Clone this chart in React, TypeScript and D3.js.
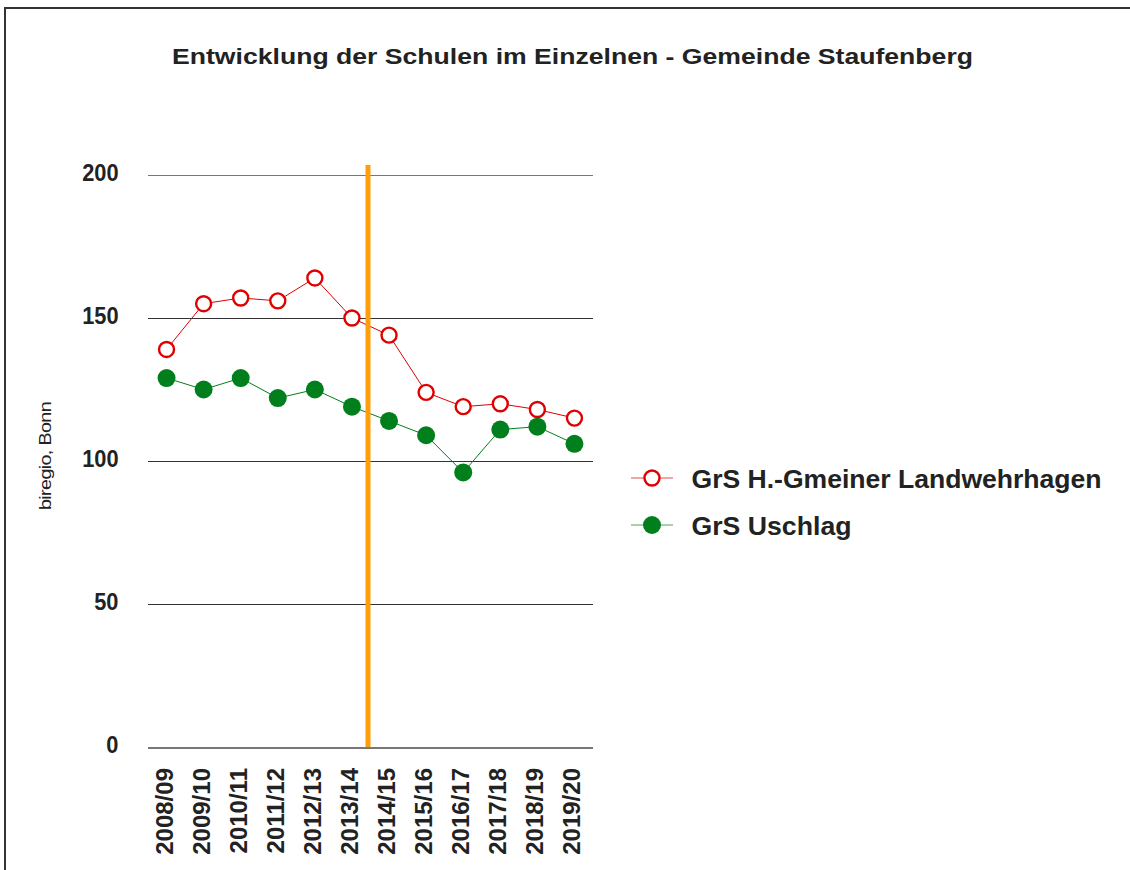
import React from "react";
import * as d3 from "d3";

const categories = ["2008/09","2009/10","2010/11","2011/12","2012/13","2013/14","2014/15","2015/16","2016/17","2017/18","2018/19","2019/20"];
const landwehrhagen = [139,155,157,156,164,150,144,124,119,120,118,115];
const uschlag = [129,125,129,122,125,119,114,109,96,111,112,106];
const yTicks = [0,50,100,150,200];
const seriesNames = ["GrS H.-Gmeiner Landwehrhagen","GrS Uschlag"];
const markerBoundary = 6; // boundary between 2013/14 and 2014/15

const W = 1130, H = 870;
const FONT = "'Liberation Sans', Arial, Helvetica, sans-serif";

export default function App() {
  const x = d3.scaleBand().domain(categories).range([148, 593]);
  const y = d3.scaleLinear().domain([0, 200]).range([747, 175]);
  const cx = (c: string) => (x(c) as number) + x.bandwidth() / 2;
  const line = d3.line<number>().x((_, i) => cx(categories[i])).y((v) => y(v));
  const orangeX = 148 + x.bandwidth() * markerBoundary - 5;
  const red = "#e00000";
  const green = "#007f1c";
  const legendWidths = [410, 160];

  return (
    <svg width={W} height={H} style={{ position: "absolute", left: 0, top: 0 }} fontFamily={FONT}>
      <rect x={0} y={0} width={W} height={H} fill="#fff" />
      <rect x={5} y={8} width={W + 20} height={H + 20} fill="none" stroke="#333" strokeWidth={2} />
      <text x={572.5} y={64} textAnchor="middle" fontSize={22.5} fontWeight="bold" fill="#222"
        textLength={801} lengthAdjust="spacingAndGlyphs">
        Entwicklung der Schulen im Einzelnen - Gemeinde Staufenberg
      </text>
      {yTicks.map((t) => (
        <g key={t}>
          <line x1={148} x2={593} y1={Math.round(y(t)) + 0.5} y2={Math.round(y(t)) + 0.5}
            stroke={t === 0 || t === 200 ? "#777" : "#333"} strokeWidth={t === 0 ? 2 : 1} shapeRendering="crispEdges" />
          <text transform={`translate(118.5,${y(t) + 5.5}) scale(0.89,1)`} textAnchor="end" fontSize={24.5} fontWeight="bold" fill="#222">
            {t}
          </text>
        </g>
      ))}
      <text transform={`translate(51,456) rotate(-90)`} textAnchor="middle" fontSize={16} fill="#222"
        textLength={108} lengthAdjust="spacingAndGlyphs" letterSpacing={-0.5}>
        biregio, Bonn
      </text>
      {categories.map((c) => (
        <text key={c} transform={`translate(${cx(c) + 6},768) rotate(-90)`} textAnchor="end" fontSize={24} fontWeight="bold" fill="#222">
          {c}
        </text>
      ))}
      <path d={line(landwehrhagen) || ""} fill="none" stroke={red} strokeWidth={1} />
      <path d={line(uschlag) || ""} fill="none" stroke={green} strokeWidth={1} />
      <rect x={orangeX} y={165} width={5} height={747 - 165} fill="#ff9e0a" />
      {uschlag.map((v, i) => (
        <circle key={"g" + i} cx={cx(categories[i])} cy={y(v)} r={9} fill={green} />
      ))}
      {landwehrhagen.map((v, i) => (
        <circle key={"r" + i} cx={cx(categories[i])} cy={y(v)} r={7.5} fill="#fff" stroke={red} strokeWidth={2.4} />
      ))}
      {seriesNames.map((n, i) => {
        const ly = 478 + i * 47;
        const col = i === 0 ? red : green;
        return (
          <g key={n}>
            <line x1={631} x2={673} y1={ly} y2={ly} stroke={col} strokeWidth={1} opacity={0.7} />
            {i === 0 ? (
              <circle cx={652} cy={ly} r={7.5} fill="#fff" stroke={red} strokeWidth={2.4} />
            ) : (
              <circle cx={652} cy={ly} r={9} fill={green} />
            )}
            <text x={691.5} y={ly + 10} fontSize={25.5} fontWeight="bold" fill="#222"
              textLength={legendWidths[i]} lengthAdjust="spacingAndGlyphs">
              {n}
            </text>
          </g>
        );
      })}
    </svg>
  );
}
